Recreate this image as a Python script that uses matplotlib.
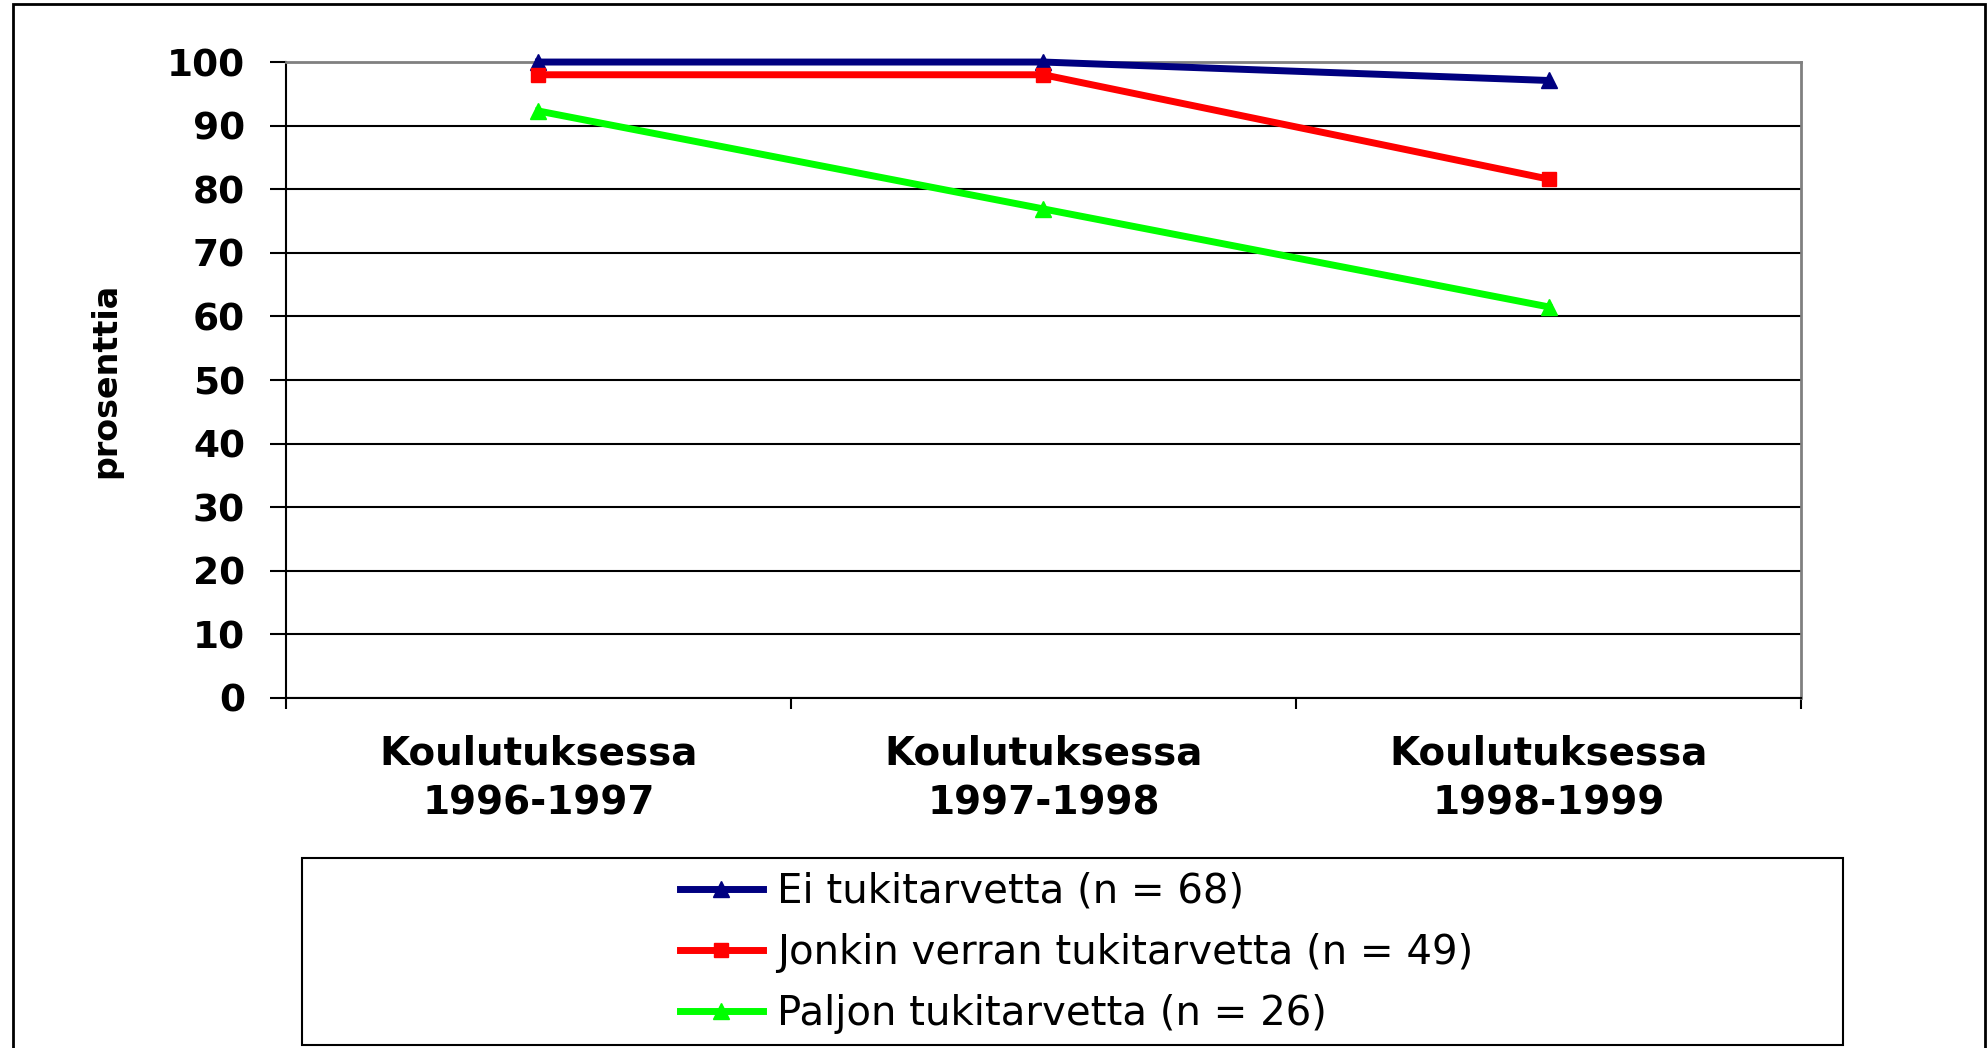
"""
Tukitarve ja koulutuksessa pysyminen
"""

import matplotlib.pyplot as plt
from matplotlib.patches import Rectangle
import numpy as np

# data
categories = ['Koulutuksessa\n1996-1997', 'Koulutuksessa\n1997-1998', 'Koulutuksessa\n1998-1999']
series_labels = ['Ei tukitarvetta (n = 68)',
                 'Jonkin verran tukitarvetta (n = 49)',
                 'Paljon tukitarvetta (n = 26)']
ei_tukitarvetta = [100.0, 100.0, 97.1]
jonkin_verran = [98.0, 98.0, 81.6]
paljon = [92.3, 76.9, 61.5]
y_ticks = list(range(0, 101, 10))

colors = ['#000080', '#FF0000', '#00FF00']
markers = ['^', 's', '^']

plt.rcParams['font.family'] = ['DejaVu Sans']

fig = plt.figure(figsize=(19.87, 10.48), dpi=100)
ax = fig.add_axes([0.1439, 0.3340, 0.9064 - 0.1439, 0.9408 - 0.3340])

x = np.arange(len(categories)) + 0.5
for vals, label, c, m in zip([ei_tukitarvetta, jonkin_verran, paljon], series_labels, colors, markers):
    ax.plot(x, vals, color=c, lw=5, marker=m, markersize=12 if m == '^' else 10.5,
            label=label, clip_on=False, zorder=3)

ax.set_xlim(0, len(categories))
ax.set_ylim(0, 100)
ax.set_yticks(y_ticks)
ax.set_yticklabels([str(v) for v in y_ticks], fontsize=27, fontweight='bold')
ax.set_xticks(np.arange(len(categories) + 1))
ax.set_xticklabels([])
ax.set_xticks(x, minor=True)
ax.set_xticklabels(categories, minor=True, fontsize=28, fontweight='bold', linespacing=1.4)
ax.tick_params(axis='x', which='major', direction='out', length=8, width=1.5, color='black')
ax.tick_params(axis='x', which='minor', length=0, pad=26)
ax.tick_params(axis='y', direction='out', length=11.5, width=1.5, pad=18)

ax.yaxis.grid(True, color='black', lw=1.5)
ax.set_axisbelow(True)
for side in ['top', 'right']:
    ax.spines[side].set_color('#808080')
    ax.spines[side].set_linewidth(2)
for side in ['left', 'bottom']:
    ax.spines[side].set_color('black')
    ax.spines[side].set_linewidth(1.5)

ax.set_ylabel('prosenttia', fontsize=24, fontweight='bold')
ax.yaxis.set_label_coords(-0.108, 0.5)

# legend without frame, box drawn separately
leg = fig.legend(loc='center left', bbox_to_anchor=(680 / 1987, 1 - 953 / 1048),
                 frameon=False, fontsize=29, handlelength=2.05, handletextpad=0.35,
                 labelspacing=0.53, borderpad=0, borderaxespad=0)
fig.add_artist(Rectangle((302 / 1987, 1 - 1045 / 1048), (1843 - 302) / 1987, (1045 - 858) / 1048,
                         transform=fig.transFigure, fill=False, edgecolor='black', lw=1.5))

# outer border
fig.add_artist(Rectangle((13 / 1987, -0.05), (1985 - 13) / 1987, 1.05 - 4 / 1048,
                         transform=fig.transFigure, fill=False, edgecolor='black', lw=2))

plt.savefig('out.png')
plt.close()
